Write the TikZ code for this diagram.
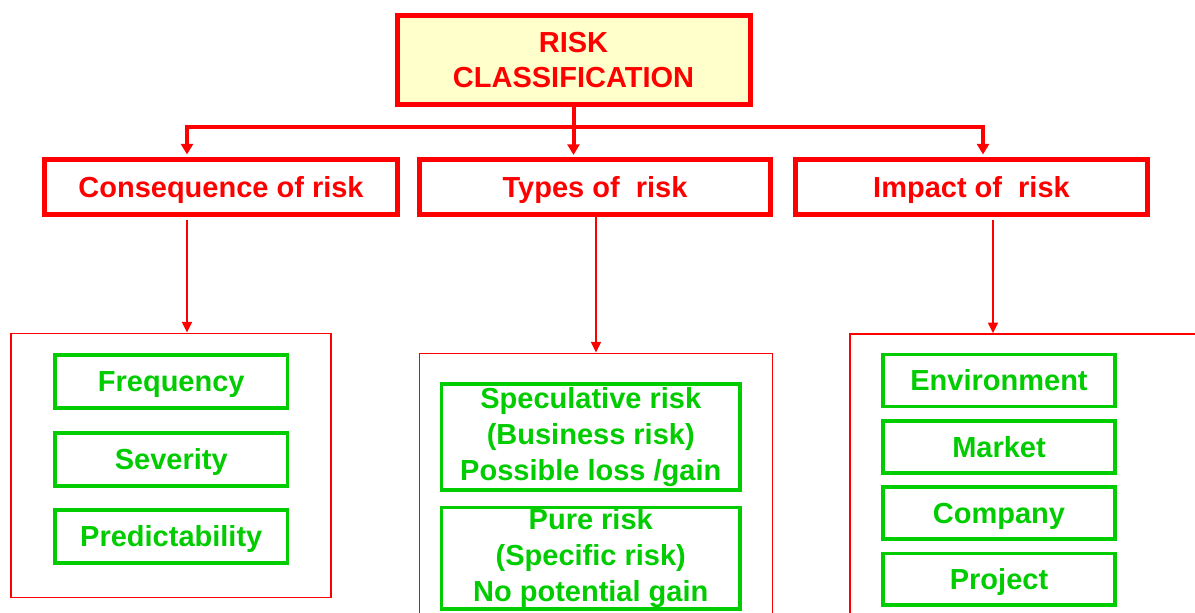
\documentclass[tikz,border=0pt]{standalone}
\usepackage{fontspec}
\setmainfont{Liberation Sans}
\usetikzlibrary{arrows.meta}
\definecolor{riskred}{RGB}{255,0,0}
\definecolor{boxgreen}{RGB}{0,204,0}
\definecolor{paleyellow}{RGB}{255,255,204}
% lengths given in drawing units (1 unit = 0.75pt)
\newcommand{\pxd}[1]{#1*0.75pt}
\begin{document}
\begin{tikzpicture}[x=0.75pt,y=-0.75pt,
  every node/.style={font=\bfseries\fontsize{21.75}{27}\selectfont, inner sep=0pt, align=center},
  oneline/.style={text height=15.6pt, text depth=0pt},
  topbox/.style={draw=riskred, fill=paleyellow, line width=3.75pt, text=riskred,
    font=\bfseries\fontsize{21.75}{26.25}\selectfont},
  headbox/.style={draw=riskred, line width=3.75pt, text=riskred, oneline},
  panel/.style={draw=riskred, line width=1.1pt},
  itembox/.style={draw=boxgreen, line width=2.8pt, text=boxgreen},
  bus/.style={draw=riskred, line width=3pt, line join=miter},
  busarrow/.style={bus, -{Triangle[width=9pt,length=8pt]}, shorten >=1.9pt},
  thinarrow/.style={draw=riskred, line width=1.1pt, -{Triangle[width=7.5pt,length=8pt]}}
]
\clip (0,0) rectangle (1195,613);

% top level
\node[topbox, minimum width=\pxd{353}, minimum height=\pxd{89}] (top) at (573.5,60.5) {RISK\\CLASSIFICATION};

% second level
\node[headbox, minimum width=\pxd{353}, minimum height=\pxd{55}] (cons) at (221,187) {Consequence of risk};
\node[headbox, minimum width=\pxd{351}, minimum height=\pxd{54.5}] (types) at (595,187.25) {Types of\ \ risk};
\node[headbox, minimum width=\pxd{352}, minimum height=\pxd{55}] (impact) at (971.5,187) {Impact of\ \ risk};

% panels
\node[panel, minimum width=\pxd{320}, minimum height=\pxd{264.5}] (lp) at (171,465.5) {};
\node[panel, minimum width=\pxd{353}, minimum height=\pxd{346.7}] (mp) at (595.8,526.65) {};
\node[panel, minimum width=\pxd{400}, minimum height=\pxd{366}] (rp) at (1050,517) {};

% consequence items
\node[itembox, oneline, minimum width=\pxd{232.5}, minimum height=\pxd{53.5}] (freq) at (171.25,381.5) {Frequency};
\node[itembox, oneline, minimum width=\pxd{232.5}, minimum height=\pxd{53.5}] (sev) at (171.25,459.5) {Severity};
\node[itembox, oneline, minimum width=\pxd{232.5}, minimum height=\pxd{53.5}] (pred) at (171.25,536.5) {Predictability};

% types items
\node[itembox, minimum width=\pxd{298.5}, minimum height=\pxd{106}] (spec) at (590.75,437) {Speculative risk\\(Business risk)\\Possible loss /gain};
\node[itembox, minimum width=\pxd{298.5}, minimum height=\pxd{101.5}] (pure) at (590.75,558.25) {Pure risk\\(Specific risk)\\No potential gain};

% impact items
\node[itembox, oneline, minimum width=\pxd{232}, minimum height=\pxd{52}] (env) at (999,380.5) {Environment};
\node[itembox, oneline, minimum width=\pxd{232}, minimum height=\pxd{52}] (mkt) at (999,447) {Market};
\node[itembox, oneline, minimum width=\pxd{232}, minimum height=\pxd{52}] (comp) at (999,513) {Company};
\node[itembox, oneline, minimum width=\pxd{232}, minimum height=\pxd{51.5}] (proj) at (999,579.25) {Project};

% bus connectors: one path per branch so the corners join cleanly
\coordinate (jl) at (187,127);
\coordinate (jr) at (983,127);
\draw[busarrow] (top.south) -- (types.north -| top.south);
\draw[busarrow] (top.south |- jl) -- (jl) -- (jl |- cons.north);
\draw[busarrow] (top.south |- jr) -- (jr) -- (jr |- impact.north);

% thin connectors to the panels
\coordinate (lx) at (187,0);
\coordinate (tx) at (596,0);
\coordinate (rx) at (993,0);
\draw[thinarrow, shorten <=2.5pt] (lx |- cons.south) -- (lx |- lp.north);
\draw[thinarrow, shorten <=-3pt] (tx |- types.south) -- (tx |- mp.north);
\draw[thinarrow, shorten <=2.5pt] (rx |- impact.south) -- (rx |- rp.north);
\end{tikzpicture}
\end{document}
